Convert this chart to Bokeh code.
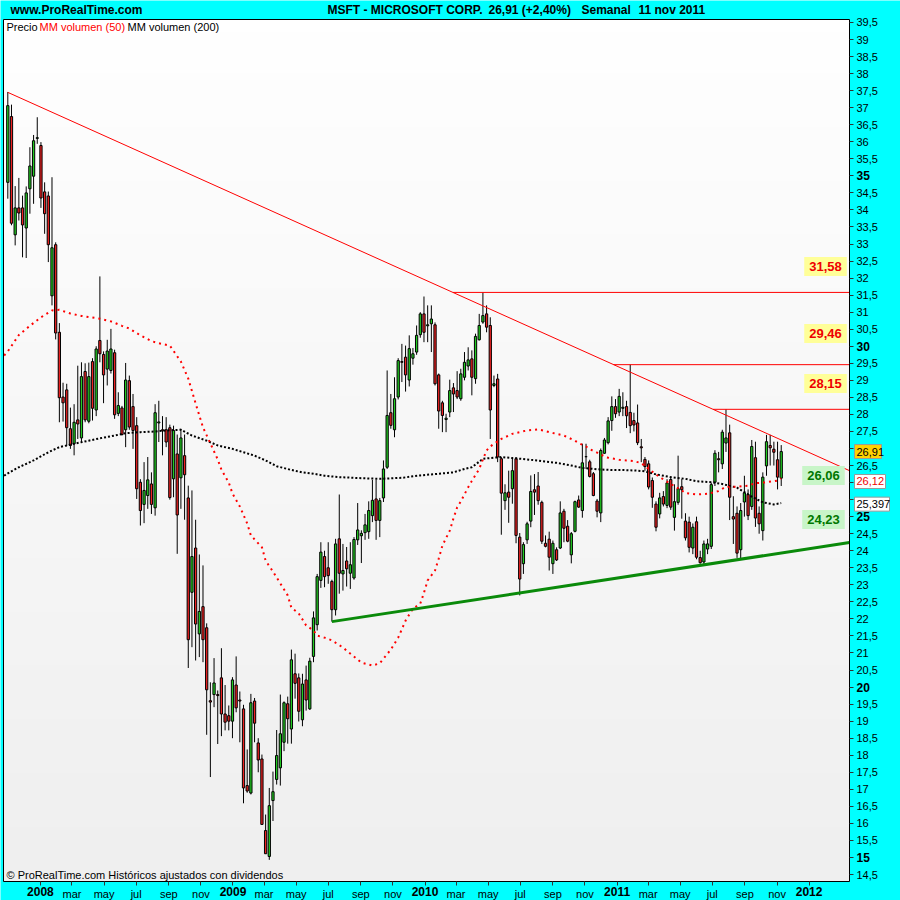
import numpy as np
import pandas as pd
from bokeh.plotting import figure
from bokeh.models import Range1d, FixedTicker, Label, ColumnDataSource
from bokeh.embed import file_html
from bokeh.resources import INLINE

# ---------------- weekly MSFT candles, 29 Oct 2007 .. 7 Nov 2011 ----------------
first_week = "2007-10-31"
n_weeks = 211

open_ = [34.81,36.74,33.27,34.06,34.06,33.47,34.62,34.99,36.10,35.89,
         34.53,34.41,31.48,32.98,30.41,28.51,28.72,27.58,27.14,27.84,
         27.31,29.26,27.80,29.55,28.13,30.17,29.76,29.33,29.29,29.81,
         28.03,28.19,27.55,28.99,28.23,27.67,26.01,25.36,25.62,25.96,
         25.26,27.75,27.55,27.55,27.61,26.11,26.84,26.14,26.79,25.55,
         22.78,24.08,21.56,22.36,21.74,19.60,19.78,19.78,20.27,19.21,
         19.16,19.00,20.06,19.62,19.36,17.11,16.89,19.59,18.36,17.89,
         15.79,15.03,16.67,17.29,17.63,18.38,19.51,18.77,20.39,20.27,
         19.04,20.21,19.36,20.90,21.83,23.13,23.83,23.50,23.10,22.27,
         24.35,23.32,23.70,23.34,23.20,24.32,24.44,24.53,24.56,25.03,
         25.52,24.89,25.55,26.45,28.05,27.55,28.51,29.55,29.68,29.01,
         29.65,29.83,30.34,30.95,30.60,30.66,30.63,29.16,28.34,27.85,
         28.07,28.78,28.70,28.46,29.09,29.42,29.63,29.05,30.19,30.71,
         30.95,30.61,28.85,29.04,26.70,25.47,25.72,25.82,26.70,24.40,
         23.62,24.32,24.87,25.79,25.90,25.42,24.22,24.34,23.62,24.03,
         24.08,25.16,24.72,23.88,24.57,25.49,25.18,26.76,26.61,26.26,
         25.46,25.11,26.86,27.17,27.82,28.23,28.07,28.18,28.23,28.06,
         27.82,27.75,27.05,26.68,26.55,26.06,25.37,25.08,25.59,25.33,
         26.09,24.98,25.42,25.88,24.87,24.84,24.08,24.85,23.80,23.67,
         24.05,24.13,26.01,26.70,26.55,27.16,27.46,25.00,25.10,24.03,
         25.43,25.65,25.30,26.73,25.10,24.59,26.49,27.09,26.98,26.67,
         26.13]

high = [37.46,37.09,34.70,34.94,34.42,34.69,35.84,36.20,36.72,35.99,
        34.81,34.54,34.96,33.05,30.68,28.93,28.90,28.20,28.30,29.43,
        29.53,29.50,29.52,29.65,30.00,32.05,29.85,30.19,30.51,29.90,
        28.65,28.25,29.51,29.14,28.60,27.92,26.10,26.60,26.75,26.30,
        28.30,28.40,27.95,27.92,27.70,27.67,27.41,27.58,27.41,25.91,
        25.77,24.91,23.89,23.57,21.87,20.14,20.85,19.90,21.14,20.06,
        19.46,20.29,20.90,19.87,19.48,18.17,19.80,19.68,18.50,18.02,
        16.26,17.04,17.52,18.74,19.78,19.58,19.72,21.10,20.98,20.40,
        20.39,20.63,20.86,22.22,23.32,24.25,24.00,24.25,23.15,24.35,
        25.65,24.20,24.11,24.25,24.40,25.40,24.60,25.08,25.45,26.08,
        26.08,25.55,26.65,29.29,28.60,29.09,29.65,30.07,30.02,30.32,
        29.95,30.61,31.00,31.46,31.20,31.20,30.70,29.20,28.40,28.02,
        29.02,28.92,29.27,29.34,29.83,29.97,29.88,30.37,30.95,31.58,
        31.20,30.85,29.14,29.19,26.75,25.95,26.35,26.70,26.75,24.52,
        24.25,24.85,26.21,26.25,26.31,25.47,24.45,24.56,24.30,24.10,
        25.45,25.23,24.90,24.55,25.47,25.62,27.14,27.14,26.67,26.31,
        25.52,27.00,27.31,27.92,28.53,28.45,28.75,28.65,28.40,29.46,
        28.05,28.29,27.28,26.75,26.65,26.15,25.45,25.70,25.75,26.10,
        26.18,25.95,26.79,26.10,25.10,25.00,24.80,25.00,24.00,24.30,
        24.35,26.00,26.95,26.90,27.55,28.15,27.70,25.60,25.30,25.40,
        26.20,25.80,27.25,27.20,25.30,26.30,27.40,27.40,27.20,27.20,
        27.10]

low = [34.33,33.55,32.96,33.69,32.61,32.59,33.89,34.18,35.94,34.06,
       33.30,32.47,31.20,30.20,27.77,27.79,27.07,26.99,26.80,27.28,
       27.16,27.77,27.74,27.82,27.95,29.53,28.33,28.85,29.20,27.87,
       27.95,27.38,27.04,27.55,26.99,25.52,24.74,24.81,25.23,25.08,
       25.03,27.19,26.80,27.04,25.50,25.57,23.91,25.23,24.91,20.56,
       21.17,20.78,20.88,20.73,18.60,17.36,19.41,18.33,18.56,18.73,
       18.73,18.50,19.26,18.38,16.59,16.90,16.85,18.38,17.50,15.96,
       15.11,14.93,16.07,17.14,17.11,18.12,18.34,18.34,19.66,18.99,
       18.85,19.31,19.33,20.73,21.66,22.91,22.93,23.03,21.92,22.10,
       22.74,22.83,22.95,22.88,23.15,24.17,23.64,24.32,24.35,24.84,
       24.32,24.40,25.43,26.40,27.58,27.33,28.44,28.95,28.67,28.82,
       29.46,29.75,30.25,30.12,30.12,29.83,28.85,27.58,27.48,27.48,
       27.92,28.07,28.45,28.40,29.00,29.29,28.56,28.90,30.17,30.66,
       30.41,27.28,28.80,26.60,24.47,25.20,24.82,25.38,24.22,22.69,
       23.32,24.20,24.69,25.05,25.35,24.20,24.10,23.42,23.32,23.70,
       24.05,24.25,24.25,23.63,24.54,25.26,24.97,26.40,26.15,25.60,
       24.98,24.84,26.84,27.12,27.52,27.90,27.95,27.95,27.60,27.45,
       27.50,27.10,26.60,26.35,25.80,25.26,24.57,24.95,25.30,25.25,
       25.20,24.59,25.35,24.94,24.30,23.95,23.90,23.75,23.62,23.60,
       23.90,24.05,25.90,26.30,26.40,26.90,24.90,24.20,23.79,23.75,
       25.00,24.90,25.20,24.70,24.50,24.30,26.20,26.50,26.50,25.80,
       25.90]

close = [37.06,33.61,34.06,33.91,33.56,34.50,35.29,36.03,36.12,34.35,
         33.89,32.98,32.89,30.39,28.49,28.34,27.61,27.09,27.77,27.72,
         29.11,27.84,29.11,28.18,29.92,29.78,29.16,29.86,29.92,27.99,
         28.26,27.41,29.01,27.63,27.53,25.82,25.18,25.77,26.08,25.36,
         28.05,27.78,27.52,27.19,25.56,27.53,25.05,27.31,26.23,21.39,
         23.83,21.85,22.22,21.39,19.92,19.56,20.12,19.75,19.21,18.97,
         19.00,20.21,19.39,19.59,17.04,16.95,19.54,18.94,17.86,15.97,
         15.11,16.52,16.93,17.99,18.63,19.54,19.07,20.80,20.11,19.29,
         20.09,19.62,20.76,22.03,23.24,23.96,23.24,23.27,22.27,24.20,
         23.34,23.42,23.47,23.59,24.33,24.61,24.51,24.76,25.18,25.48,
         24.89,25.47,26.40,27.97,27.68,28.46,29.58,29.53,29.16,29.93,
         29.78,30.32,30.95,30.41,30.63,30.80,28.90,28.10,27.97,27.89,
         28.70,28.60,28.51,29.19,29.53,29.60,29.09,30.29,30.61,30.90,
         30.56,28.13,28.90,26.75,25.69,25.70,25.57,26.35,24.45,23.17,
         24.18,24.79,25.74,25.72,25.47,24.28,24.13,23.81,24.22,23.73,
         25.11,24.66,24.28,24.50,25.44,25.28,26.58,26.76,26.18,25.62,
         25.16,26.94,27.25,27.81,28.23,28.02,28.53,28.21,27.96,27.67,
         27.69,27.17,27.02,26.47,25.87,25.57,24.69,25.55,25.37,25.99,
         25.28,25.44,25.82,25.79,24.38,24.10,24.69,23.81,23.65,24.20,
         24.20,25.94,26.86,26.67,27.48,27.31,25.57,24.93,23.93,25.18,
         25.70,25.03,27.06,24.96,24.79,26.16,27.20,27.02,26.89,26.16,
         26.91]

# moving averages, read at these week numbers (-1 = the week before the first candle)
ma50_week = [-1, 0, 3, 6, 9, 12, 14, 17, 20, 25, 28, 31, 33, 36, 39, 41, 44, 47, 49, 51,
             53, 55, 57, 58, 60, 61, 63, 65, 66, 69, 70, 72, 74, 76, 77, 79, 81, 83, 84, 86,
             88, 91, 92, 96, 99, 101, 104, 106, 108, 110, 112, 113, 114, 116, 117, 118, 120, 121, 122, 123,
             125, 126, 128, 129, 130, 131, 133, 134, 136, 137, 139, 141, 143, 144, 146, 147, 149, 151, 152, 154,
             155, 157, 158, 160, 161, 163, 165, 166, 168, 170, 172, 174, 177, 180, 183, 184, 187, 190, 193, 195,
             198, 201, 203, 206, 209, 210]
ma50_val = [29.73, 29.85, 30.33, 30.60, 30.85, 31.05, 31.07, 30.96, 30.89, 30.81, 30.73, 30.60, 30.52, 30.32, 30.15, 30.09, 30.02, 29.55, 29.05, 28.32,
            27.62, 27.15, 26.68, 26.38, 26.00, 25.68, 25.30, 24.80, 24.45, 24.10, 23.71, 23.39, 23.04, 22.69, 22.33, 22.16, 21.81, 21.66, 21.51, 21.45,
            21.37, 21.16, 21.07, 20.72, 20.63, 20.70, 21.10, 21.45, 21.95, 22.30, 22.45, 22.77, 23.13, 23.42, 23.77, 24.15, 24.59, 24.95, 25.27, 25.45,
            25.86, 26.05, 26.40, 26.68, 26.94, 27.06, 27.21, 27.28, 27.38, 27.43, 27.48, 27.53, 27.55, 27.56, 27.51, 27.48, 27.43, 27.38, 27.33, 27.23,
            27.16, 27.06, 26.98, 26.88, 26.82, 26.73, 26.69, 26.67, 26.65, 26.63, 26.57, 26.40, 26.16, 25.96, 25.77, 25.69, 25.65, 25.67, 25.75, 25.88,
            25.88, 25.91, 25.98, 26.01, 26.06, 26.12]

ma200_week = [-1, 0, 3, 7, 11, 14, 18, 22, 25, 29, 32, 36, 40, 43, 47, 50, 54, 57, 61, 64,
              67, 70, 73, 77, 80, 83, 86, 90, 96, 101, 107, 112, 117, 121, 124, 126, 127, 129, 134, 137,
              141, 145, 149, 153, 156, 160, 164, 167, 171, 173, 176, 180, 184, 187, 191, 194, 198, 202, 205, 208,
              210]
ma200_val = [26.20, 26.27, 26.45, 26.65, 26.89, 27.04, 27.14, 27.23, 27.30, 27.38, 27.45, 27.48, 27.50, 27.53, 27.55, 27.38, 27.23, 27.09, 26.99, 26.89,
             26.79, 26.65, 26.48, 26.37, 26.30, 26.26, 26.20, 26.16, 26.13, 26.11, 26.14, 26.21, 26.26, 26.30, 26.40, 26.45, 26.53, 26.70, 26.75, 26.72,
             26.68, 26.63, 26.58, 26.50, 26.43, 26.39, 26.37, 26.37, 26.35, 26.33, 26.24, 26.16, 26.11, 26.04, 26.01, 25.96, 25.85, 25.59, 25.42, 25.36,
             25.40]

# drawn trend lines: resistance from the first week, support from week 88
resist_start_week, resist_start_price, resist_edge_price = 0, 37.45, 26.35
support_start_week, support_start_price, support_edge_price = 88, 21.92, 24.24
resist_levels = [31.58, 29.46, 28.15]
resist_texts = ["31,58", "29,46", "28,15"]
support_texts = ["26,06", "24,23"]

# last values shown on the price axis: text, value, text colour, box colour, box width px
last_values = [("26,91", 26.91, "black", "#FFD200", 27),
               ("26,12", 26.12, "#EE0000", "white", 31),
               ("25,397", 25.397, "black", "white", 35)]

# axis ticks
price_ticks = [14.5 + 0.5 * k for k in range(51)]
bold_prices = [15, 20, 25, 30, 35]
covered_prices = [27, 26, 25.5]          # hidden under the last-value boxes
month_tick_dates = ["2008-01-01", "2008-03-01", "2008-05-01", "2008-07-01", "2008-09-01", "2008-11-01",
                    "2009-01-01", "2009-03-01", "2009-05-01", "2009-07-01", "2009-09-01", "2009-11-01",
                    "2010-01-01", "2010-03-01", "2010-05-01", "2010-07-01", "2010-09-01", "2010-11-01",
                    "2011-01-01", "2011-03-01", "2011-05-01", "2011-07-01", "2011-09-01", "2011-11-01",
                    "2012-01-01"]
month_tick_labels = ["2008", "mar", "may", "jul", "sep", "nov",
                     "2009", "mar", "may", "jul", "sep", "nov",
                     "2010", "mar", "may", "jul", "sep", "nov",
                     "2011", "mar", "may", "jul", "sep", "nov",
                     "2012"]

# ---------------- geometry ----------------
W = H = 900
PANE_L, PANE_R, PANE_T, PANE_B = 3, 849, 19, 881   # price pane inside the canvas, px
DAY = 86400000.0
WEEK = 7 * DAY
PX_PER_WEEK = 3.683
FIRST_CANDLE_PX = 7.3

def to_ms(d):
    return pd.Timestamp(d).value / 1e6

week_x = [to_ms(first_week) + i * WEEK for i in range(n_weeks)]
def wx(i):
    return to_ms(first_week) + i * WEEK

# data extent of the price pane
x_start = week_x[0] - (FIRST_CANDLE_PX - PANE_L) / PX_PER_WEEK * WEEK
x_end = x_start + (PANE_R - PANE_L) / PX_PER_WEEK * WEEK
y_start, y_end = 14.295, 39.588
ms_per_px = (x_end - x_start) / (PANE_R - PANE_L)
u_per_px = (y_end - y_start) / (PANE_B - PANE_T)

def xpx(px):
    return x_start + (px - PANE_L) * ms_per_px

def ypx(py):
    return y_end - (py - PANE_T) * u_per_px

def py_of(v):
    return PANE_T + (y_end - v) / u_per_px

FONT = "Liberation Sans Narrow, Liberation Sans, Arial, sans-serif"
GREEN = "#22CC22"
RED = "#EE2222"

# the plotting frame covers the whole canvas; the pane sits inside it
p = figure(width=W, height=H, output_backend="svg", toolbar_location=None,
           x_range=Range1d(xpx(0), xpx(W)), y_range=Range1d(ypx(H), ypx(0)),
           x_axis_type="datetime", y_axis_location="right",
           min_border_left=0, min_border_right=0, min_border_top=0, min_border_bottom=0)
p.border_fill_color = "#00FFFF"
p.background_fill_color = "#00FFFF"
p.outline_line_color = None
p.grid.visible = False

# soft vertical gradient of the price pane
n_rows = 64
img = np.empty((n_rows, 1), dtype=np.uint32)
view = img.view(dtype=np.uint8).reshape((n_rows, 1, 4))
shade = np.linspace(239, 255, n_rows).astype(np.uint8)
view[:, 0, 0] = shade
view[:, 0, 1] = shade
view[:, 0, 2] = shade
view[:, 0, 3] = 255
p.image_rgba(image=[img], x=x_start, y=y_start, dw=x_end - x_start, dh=y_end - y_start)

# ---------------- axes, pinned to the pane edges ----------------
def price_label(v):
    if v in bold_prices or v in covered_prices:
        return ""
    return f"{v:g}".replace(".", ",")

p.yaxis.fixed_location = x_end
p.yaxis.ticker = FixedTicker(ticks=price_ticks)
p.yaxis.major_label_overrides = {float(v): price_label(v) for v in price_ticks}
p.yaxis.minor_tick_line_color = None
p.yaxis.major_tick_in = 0
p.yaxis.major_tick_out = 4
p.yaxis.major_tick_line_color = "#333333"
p.yaxis.axis_line_color = None
p.yaxis.major_label_standoff = 3
p.yaxis.major_label_text_font = FONT
p.yaxis.major_label_text_font_size = "11px"
p.yaxis.major_label_text_color = "black"

month_ms = [to_ms(d) for d in month_tick_dates]
p.xaxis.fixed_location = y_start
p.xaxis.ticker = FixedTicker(ticks=month_ms)
p.xaxis.major_label_overrides = {
    float(m): ("" if lab.isdigit() else lab) for m, lab in zip(month_ms, month_tick_labels)
}
p.xaxis.minor_tick_line_color = None
p.xaxis.major_tick_in = 0
p.xaxis.major_tick_out = 4
p.xaxis.major_tick_line_color = "#333333"
p.xaxis.axis_line_color = None
p.xaxis.major_label_standoff = 2
p.xaxis.major_label_text_font = FONT
p.xaxis.major_label_text_font_size = "11px"
p.xaxis.major_label_text_color = "black"

# bold year labels under the time axis
for m, lab in zip(month_ms, month_tick_labels):
    if lab.isdigit():
        p.add_layout(Label(x=m, y=ypx(891), text=lab, text_align="center", text_baseline="middle",
                           text_font=FONT, text_font_size="12px", text_font_style="bold",
                           text_color="black"))
# bold round prices on the price axis
for v in bold_prices:
    p.add_layout(Label(x=xpx(856), y=v, text=str(v), text_align="left", text_baseline="middle",
                       text_font=FONT, text_font_size="12px", text_font_style="bold",
                       text_color="black"))

# ---------------- candles ----------------
colors = [GREEN if c >= o else RED for o, c in zip(open_, close)]
src = ColumnDataSource(dict(
    x=week_x, open=open_, high=high, low=low, close=close,
    top=[max(o, c) for o, c in zip(open_, close)],
    bottom=[min(o, c) for o, c in zip(open_, close)],
    color=colors))
p.segment(x0="x", y0="low", x1="x", y1="high", source=src, line_color="black", line_width=1)
p.vbar(x="x", width=4.3 * DAY, top="top", bottom="bottom", source=src,
       fill_color="color", line_color="black", line_width=1)

# ---------------- moving averages ----------------
p.line([wx(i) for i in ma200_week], ma200_val, line_color="black", line_width=2, line_dash="2 2")
p.line([wx(i) for i in ma50_week], ma50_val, line_color="#FF0000", line_width=2, line_dash="2 4")

# ---------------- trend lines ----------------
rx0 = wx(resist_start_week)
p.line([rx0, x_end], [resist_start_price, resist_edge_price], line_color="#FF0000", line_width=1)
p.line([wx(support_start_week), x_end], [support_start_price, support_edge_price],
       line_color="#0A8A0A", line_width=3)

slope = (resist_edge_price - resist_start_price) / (x_end - rx0)
for lvl in resist_levels:
    xs = rx0 + (lvl - resist_start_price) / slope
    p.line([xs, x_end], [lvl, lvl], line_color="#FF0000", line_width=1)

# level boxes inside the pane
for txt, py in zip(resist_texts, [266, 333, 383]):
    p.add_layout(Label(x=xpx(825), y=ypx(py), text=txt, text_align="center", text_baseline="middle",
                       text_font=FONT, text_font_size="13px", text_font_style="bold",
                       text_color="#EE0000", background_fill_color="#FFFF99", padding=5))
for txt, py in zip(support_texts, [475, 519]):
    p.add_layout(Label(x=xpx(823), y=ypx(py), text=txt, text_align="center", text_baseline="middle",
                       text_font=FONT, text_font_size="13px", text_font_style="bold",
                       text_color="#007700", background_fill_color="#C8F5C8", padding=5))

# pane border
p.quad(left=[x_start], right=[x_end], bottom=[y_start], top=[y_end],
       fill_color=None, line_color="black", line_width=1)

# last values on the price axis (26,12 sits just under its line to clear 26,91)
box_centres = [py_of(last_values[0][1]), py_of(last_values[1][1]) + 3, py_of(last_values[2][1]) + 1]
for (txt, v, fg, bg, bw), pc in zip(last_values, box_centres):
    p.quad(left=[xpx(854)], right=[xpx(854 + bw)], top=[ypx(pc - 7)], bottom=[ypx(pc + 7)],
           fill_color=bg, line_color="#999999", line_width=1)
    p.add_layout(Label(x=xpx(856), y=ypx(pc), text=txt, text_align="left", text_baseline="middle",
                       text_font=FONT, text_font_size="11px", text_color=fg))

# ---------------- header, legend, footer ----------------
def header(px, py, txt, color="black", bold=True, size="12px"):
    p.add_layout(Label(x=xpx(px), y=ypx(py), text=txt, text_align="left", text_baseline="middle",
                       text_font=FONT, text_font_size=size,
                       text_font_style="bold" if bold else "normal", text_color=color))

header(10, 9, "www.ProRealTime.com")
header(327, 9, "MSFT - MICROSOFT CORP.")
header(488, 9, "26,91 (+2,40%)")
header(581, 9, "Semanal")
header(638, 9, "11 nov 2011")

header(6, 26, "Precio", bold=False, size="11px")
header(39, 26, "MM volumen (50)", color="#FF0000", bold=False, size="11px")
header(127, 26, "MM volumen (200)", bold=False, size="11px")

header(6, 874, "\u00a9 ProRealTime.com Hist\u00f3ricos ajustados con dividendos", bold=False, size="11px")

open("out.html", "w").write(file_html(p, INLINE))
